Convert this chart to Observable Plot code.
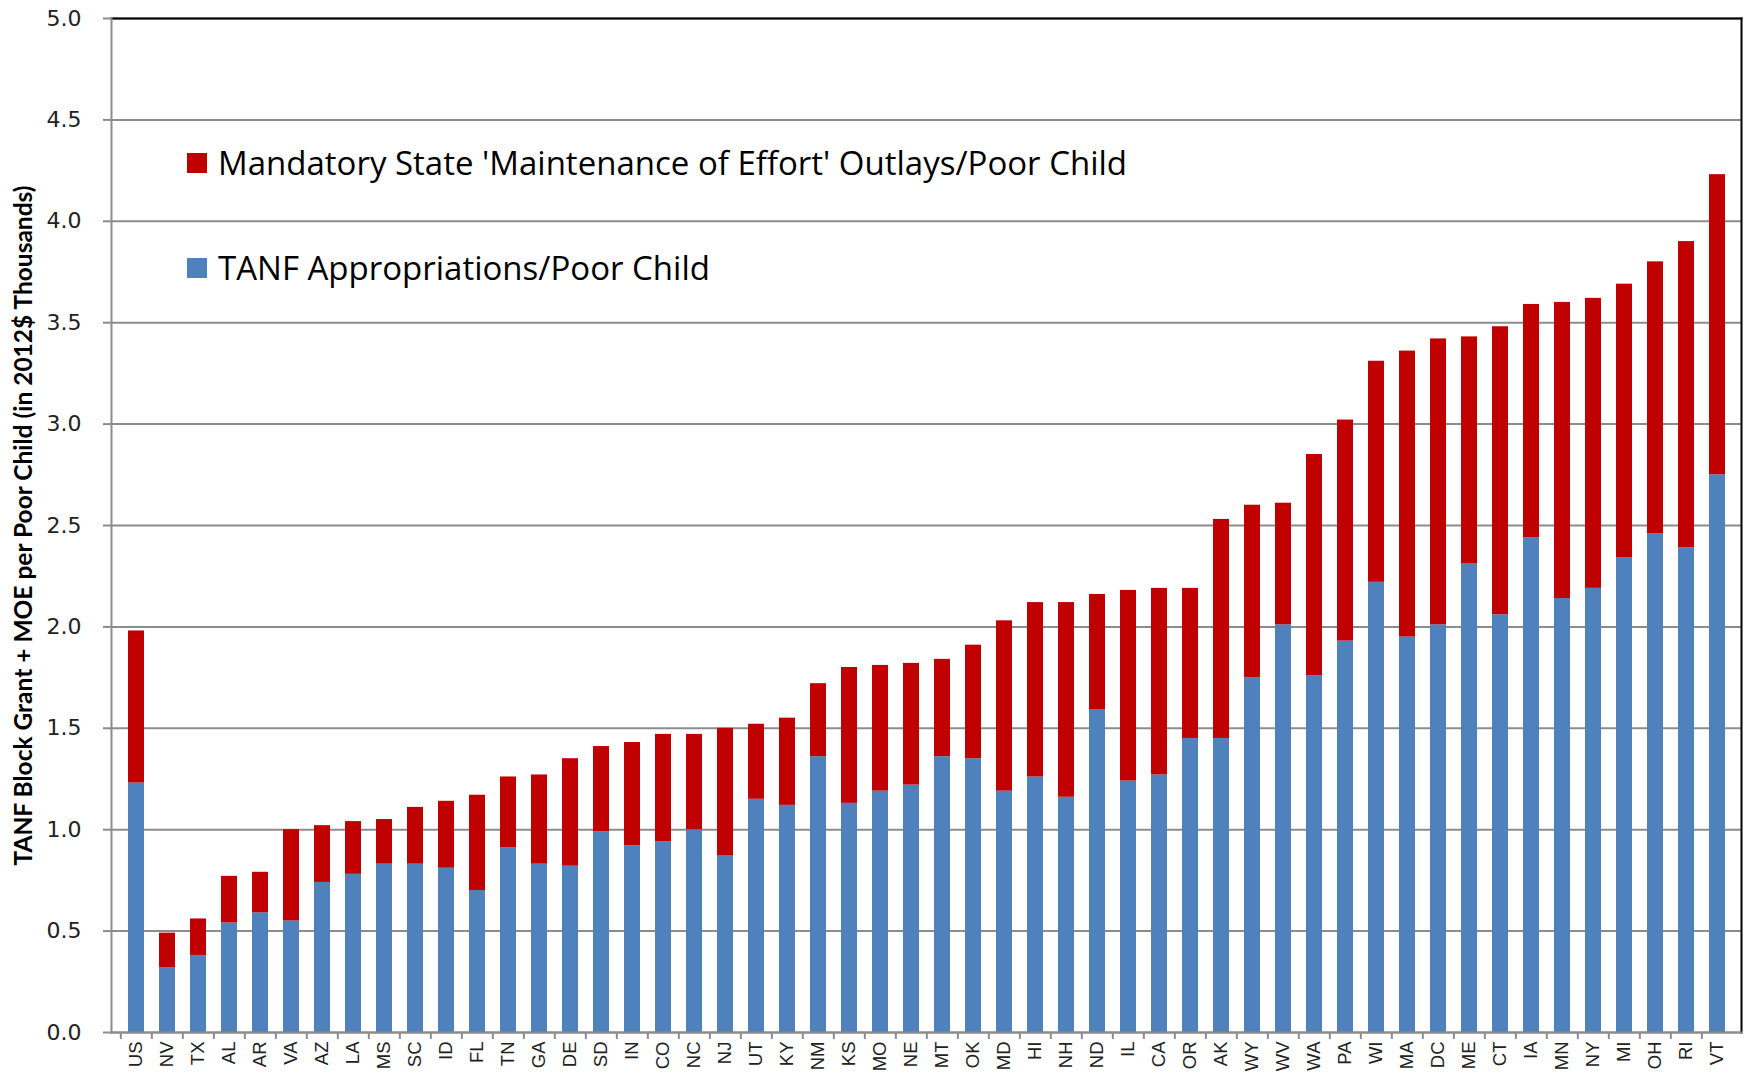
<!DOCTYPE html>
<html><head><meta charset="utf-8">
<script src="https://cdn.jsdelivr.net/npm/d3@7"></script>
<script src="https://cdn.jsdelivr.net/npm/@observablehq/plot@0.6"></script>
<style>
body{margin:0;background:#fff;}
#wrap{position:relative;width:1752px;height:1074px;overflow:hidden;background:#fff;}
.legend{position:absolute;left:187px;font-family:"Open Sans", Lato, sans-serif;font-size:33px;line-height:36px;color:#000;display:flex;align-items:center;white-space:nowrap;}
.sw{width:20px;height:20px;margin-right:11px;flex:none;}
</style></head><body><div id="wrap"></div>
<script>
const states = ["US","NV","TX","AL","AR","VA","AZ","LA","MS","SC","ID","FL","TN","GA","DE","SD","IN","CO","NC","NJ","UT","KY","NM","KS","MO","NE","MT","OK","MD","HI","NH","ND","IL","CA","OR","AK","WY","WV","WA","PA","WI","MA","DC","ME","CT","IA","MN","NY","MI","OH","RI","VT"];
const tanf = [1.23,0.32,0.38,0.54,0.59,0.55,0.74,0.78,0.83,0.83,0.81,0.70,0.91,0.83,0.82,0.99,0.92,0.94,1.00,0.87,1.15,1.12,1.36,1.13,1.19,1.22,1.36,1.35,1.19,1.26,1.16,1.59,1.24,1.27,1.45,1.45,1.75,2.01,1.76,1.93,2.22,1.95,2.01,2.31,2.06,2.44,2.14,2.19,2.34,2.46,2.39,2.75];
const moe = [0.75,0.17,0.18,0.23,0.20,0.45,0.28,0.26,0.22,0.28,0.33,0.47,0.35,0.44,0.53,0.42,0.51,0.53,0.47,0.63,0.37,0.43,0.36,0.67,0.62,0.60,0.48,0.56,0.84,0.86,0.96,0.57,0.94,0.92,0.74,1.08,0.85,0.60,1.09,1.09,1.09,1.41,1.41,1.12,1.42,1.15,1.46,1.43,1.35,1.34,1.51,1.48];
const seriesNames = ["TANF Appropriations/Poor Child", "Mandatory State 'Maintenance of Effort' Outlays/Poor Child"];
const seriesColors = ["#4F81BD", "#C00000"];
const yTicks = [0,0.5,1,1.5,2,2.5,3,3.5,4,4.5,5];
const yTitle = "TANF Block Grant + MOE per Poor Child (in 2012$ Thousands)";

const rows = [];
states.forEach((s,i)=>rows.push({state:s, series:seriesNames[0], value:tanf[i]}));
states.forEach((s,i)=>rows.push({state:s, series:seriesNames[1], value:moe[i]}));

const W = 1752, H = 1074, ML = 111, MR = 11, MT = 18, MB = 42;
const step = (W - ML - MR) / states.length;
const gray = "#8c8c8c";

const chart = Plot.plot({
  width: W, height: H,
  marginLeft: ML, marginRight: MR, marginTop: MT, marginBottom: MB,
  style: {fontFamily: "DejaVu Sans, sans-serif", background: "#fff", overflow: "hidden"},
  x: {domain: states, paddingInner: 0.5, paddingOuter: 0.25, axis: null},
  y: {domain: [0,5], axis: null},
  color: {domain: seriesNames, range: seriesColors},
  marks: [
    Plot.gridY(yTicks, {stroke: gray, strokeOpacity: 1, strokeWidth: 2}),
    Plot.barY(rows, {x: "state", y: "value", fill: "series", order: seriesNames}),
    Plot.frame({anchor: "top", stroke: "#000", strokeWidth: 2}),
    Plot.frame({anchor: "right", stroke: "#000", strokeWidth: 2}),
    Plot.frame({anchor: "left", stroke: gray, strokeWidth: 2}),
    Plot.frame({anchor: "bottom", stroke: gray, strokeWidth: 2}),
    Plot.axisY({ticks: yTicks, tickFormat: d3.format(".1f"), tickSize: 8, tickPadding: 22, stroke: gray, strokeWidth: 2,
      fontSize: 22, fill: "#222", fontFamily: "DejaVu Sans, sans-serif",
      label: yTitle, labelAnchor: "center", labelArrow: "none", labelOffset: 97}),
    Plot.axisX({tickSize: 7, text: null, label: null, dx: -step/2, stroke: gray, strokeWidth: 2}),
    Plot.axisX({tickSize: 0, tickPadding: 9, tickRotate: -90, fontSize: 18.5, fill: "#222", fontFamily: "Liberation Sans, Arial, sans-serif", label: null})
  ]
});
document.getElementById("wrap").appendChild(chart);

// y-axis title font
chart.querySelectorAll('[aria-label="y-axis label"]').forEach(g => {
  g.setAttribute("font-family", "Lato, sans-serif");
  g.setAttribute("font-size", "24.5");
  g.setAttribute("font-weight", "bold");
  g.setAttribute("fill", "#000");
});

// legend (top-down order as in the reference)
const legendRows = [
  {name: seriesNames[1], color: seriesColors[1], top: 145},
  {name: seriesNames[0], color: seriesColors[0], top: 250}
];
legendRows.forEach(r => {
  const d = document.createElement("div");
  d.className = "legend";
  d.style.top = r.top + "px";
  const sw = document.createElement("span");
  sw.className = "sw"; sw.style.background = r.color;
  const t = document.createElement("span");
  t.textContent = r.name;
  d.appendChild(sw); d.appendChild(t);
  document.getElementById("wrap").appendChild(d);
});
</script>
</body></html>
